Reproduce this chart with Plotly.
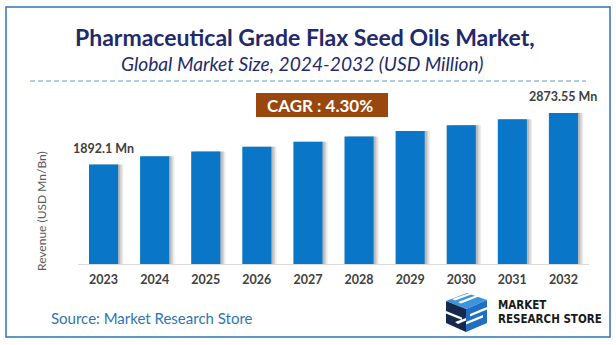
import plotly.graph_objects as go

# Market size by year (USD Million)
years = ["2023", "2024", "2025", "2026", "2027", "2028", "2029", "2030", "2031", "2032"]
revenue = [1892.1, 2051.8, 2140.0, 2232.1, 2328.1, 2428.2, 2532.6, 2641.5, 2755.1, 2873.55]
labelled_years = ["2023", "2032"]
cagr_text = "CAGR : 4.30%"

title_text = "Pharmaceutical Grade Flax Seed Oils Market,"
subtitle_text = "Global Market Size, 2024-2032 (USD Million)"
y_title = "Revenue (USD Mn/Bn)"
source_text = "Source: Market Research Store"
brand_lines = ["MARKET", "RESEARCH STORE"]

W, H = 616, 345
FONT = "Lato, Carlito, Calibri, sans-serif"
LOGO_FONT = "DejaVu Sans Condensed, DejaVu Sans, sans-serif"
NAVY = "#1f2a6c"
BAR = "#0a76c8"


def px(x):
    return x / W


def py(y):
    return 1 - y / H


fig = go.Figure()

# soft drop shadow to the right of each bar
for off, alpha in [(0.10, 0.10), (0.07, 0.13), (0.04, 0.17)]:
    fig.add_trace(go.Bar(
        x=years, y=revenue, width=0.57, offset=-0.285 + off,
        marker=dict(color=f"rgba(60,60,60,{alpha})", line=dict(width=0)),
        hoverinfo="skip", showlegend=False,
    ))

fig.add_trace(go.Bar(
    x=years, y=revenue, width=0.57, offset=-0.285,
    marker=dict(color=BAR, line=dict(width=0)),
    hoverinfo="skip", showlegend=False,
))


def note(x, y, text, size, color, family=FONT, xanchor="center", **kw):
    return dict(x=px(x), y=py(y), xref="paper", yref="paper", text=text,
                xanchor=xanchor, yanchor="middle", showarrow=False,
                font=dict(family=family, size=size, color=color), **kw)


annotations = []
for i, (yr, v) in enumerate(zip(years, revenue)):
    if yr in labelled_years:
        # category axes take the position index for annotations
        annotations.append(dict(
            x=i, y=v, xref="x", yref="y", text=f"<b>{v} Mn</b>",
            showarrow=False, xanchor="center", yanchor="bottom", yshift=7,
            font=dict(family=FONT, size=12.5, color="#404040"),
        ))

annotations += [
    note(305, 37, f"<b>{title_text}</b>", 23, NAVY),
    note(302, 63, f"<i>{subtitle_text}</i>", 19.2, NAVY),
    note(320, 105, f"<b>{cagr_text}</b>", 17, "white"),
    note(41, 211, y_title, 12, "#595959", textangle=-90),
    note(49, 318, source_text, 15, "#2e75b6", xanchor="left"),
    note(496, 304.5, f"<b>{brand_lines[0]}</b>", 11.5, "#1a1a1a", family=LOGO_FONT, xanchor="left"),
    note(496, 318.5, f"<b>{brand_lines[1]}</b>", 11.5, "#1a1a1a", family=LOGO_FONT, xanchor="left"),
]


def poly(points, color):
    d = "M " + " L ".join(f"{px(x)},{py(y)}" for x, y in points) + " Z"
    return dict(type="path", xref="paper", yref="paper", path=d,
                fillcolor=color, line=dict(width=0))


shapes = [
    # outer frame
    dict(type="rect", xref="paper", yref="paper", x0=px(6), x1=px(610), y0=py(7), y1=py(337),
         line=dict(color="#2e74b5", width=1.5), fillcolor="rgba(0,0,0,0)"),
    # dashed separator under the titles
    dict(type="line", xref="paper", yref="paper", x0=px(30), x1=px(586), y0=py(81), y1=py(81),
         line=dict(color="#5b9bd5", width=1, dash="5px,3px")),
    # CAGR badge
    dict(type="rect", xref="paper", yref="paper", x0=px(256), x1=px(388), y0=py(93), y1=py(117),
         fillcolor="#99470d", line=dict(width=0), layer="below"),
    # logo cube: top, left and right faces
    poly([(446, 301), (467, 293), (487, 300), (466, 309)], "#3d94de"),
    poly([(446, 301), (466, 309), (466, 332), (446, 323)], "#17284d"),
    poly([(466, 309), (487, 300), (487, 323), (466, 332)], "#1f6fc2"),
    # white cuts across the faces
    poly([(452, 299), (471, 292.5), (474, 293.5), (455, 300.5)], "white"),
    poly([(458, 302), (477, 295), (480, 296), (461, 303.5)], "white"),
    poly([(446, 311), (462, 317.5), (462, 320), (446, 313.5)], "white"),
    poly([(455, 322), (466, 318), (466, 320.5), (458, 324)], "white"),
    poly([(470, 314), (487, 307), (487, 309.5), (470, 316.5)], "white"),
    poly([(466, 322), (483, 315), (483, 317.5), (466, 324.5)], "white"),
]

fig.update_layout(
    width=W, height=H,
    margin=dict(l=0, r=0, t=0, b=0),
    paper_bgcolor="white", plot_bgcolor="white",
    barmode="overlay",
    xaxis=dict(
        domain=[px(78), px(589)], type="category", range=[-0.5, len(years) - 0.5],
        showline=True, linecolor="#d9d9d9", linewidth=1,
        showgrid=False, zeroline=False,
        ticks="outside", ticklen=4, tickcolor="rgba(0,0,0,0)",
        tickfont=dict(family=FONT, size=12.5, color="#404040", weight="bold"),
    ),
    yaxis=dict(
        domain=[py(264), py(93)], range=[0, 3254],
        showline=False, showgrid=False, zeroline=False, showticklabels=False, ticks="",
    ),
    annotations=annotations,
    shapes=shapes,
)

fig.write_html("out.html")
